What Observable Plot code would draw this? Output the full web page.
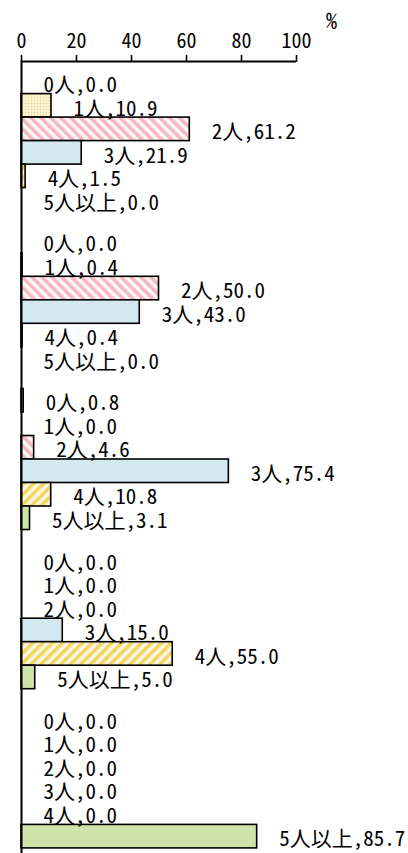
<!DOCTYPE html>
<html>
<head>
<meta charset="utf-8">
<script src="https://cdn.jsdelivr.net/npm/d3@7"></script>
<script src="https://cdn.jsdelivr.net/npm/@observablehq/plot@0.6"></script>
<style>
  html, body { margin: 0; padding: 0; background: #fff; overflow: hidden; }
  #patterns { position: absolute; width: 0; height: 0; overflow: hidden; }
</style>
</head>
<body>
<svg id="patterns" width="0" height="0" aria-hidden="true">
  <defs>
    <pattern id="pDots" patternUnits="userSpaceOnUse" width="3" height="3">
      <rect width="3" height="3" fill="#fdf4cf"></rect>
      <circle cx="1.5" cy="1.5" r="0.75" fill="#e6d49a"></circle>
    </pattern>
    <pattern id="pPink" patternUnits="userSpaceOnUse" width="7" height="7" patternTransform="rotate(-45)">
      <rect width="7" height="7" fill="#fdf8f6"></rect>
      <rect width="3.5" height="7" fill="#f6b6c3"></rect>
    </pattern>
    <pattern id="pYellow" patternUnits="userSpaceOnUse" width="7" height="7" patternTransform="rotate(45)">
      <rect width="7" height="7" fill="#fdf6e6"></rect>
      <rect width="3.5" height="7" fill="#f3d55c"></rect>
    </pattern>
  </defs>
</svg>
<div id="chart"></div>
<script>
// ---- data ----
const groups = ["G1", "G2", "G3", "G4", "G5"];
const categories = ["0人", "1人", "2人", "3人", "4人", "5人以上"];
const group1 = [0.0, 10.9, 61.2, 21.9, 1.5, 0.0];
const group2 = [0.0, 0.4, 50.0, 43.0, 0.4, 0.0];
const group3 = [0.8, 0.0, 4.6, 75.4, 10.8, 3.1];
const group4 = [0.0, 0.0, 0.0, 15.0, 55.0, 5.0];
const group5 = [0.0, 0.0, 0.0, 0.0, 0.0, 85.7];
const xTicks = [0, 20, 40, 60, 80, 100];
const unitLabel = "%";

// row slots: each category takes one unit, groups separated by a small gap
const groupGap = 0.774;
const groupPitch = categories.length + groupGap;
const groupValues = [group1, group2, group3, group4, group5];
const rows = groups.flatMap((g, gi) =>
  categories.map((c, ci) => {
    const y1 = gi * groupPitch + groupGap / 2 + ci;
    return {group: g, cat: c, value: groupValues[gi][ci], y1, y2: y1 + 1, ym: y1 + 0.5};
  })
);

const fills = ["#ffffff", "url(#pDots)", "url(#pPink)", "#d3e9ef", "url(#pYellow)", "#cde3a8"];
const font = "'Noto Sans Mono CJK JP','Noto Sans CJK JP',sans-serif";

const chart = Plot.plot({
  width: 408,
  height: 857,
  marginTop: 61,
  marginBottom: 0,
  marginLeft: 21,
  marginRight: 112,
  style: {fontFamily: font, fontSize: "20px", color: "#000", background: "#fff"},
  x: {domain: [0, 100], axis: null},
  y: {domain: [0, groups.length * groupPitch], reverse: true, axis: null},
  color: {domain: categories, range: fills},
  marks: [
    Plot.rect(rows.filter(d => d.value > 0), {
      x1: () => 0, x2: "value", y1: "y1", y2: "y2",
      fill: "cat", stroke: "#000", strokeWidth: 1.6
    }),
    Plot.text(rows, {
      x: "value", y: "ym",
      text: d => `${d.cat},${d.value.toFixed(1)}`,
      textAnchor: "start", dx: 22, dy: 3,
      fontSize: 21, fill: "#000"
    }),
    Plot.ruleX([0], {stroke: "#000", strokeWidth: 2}),
    Plot.ruleY([0], {stroke: "#000", strokeWidth: 2}),
    Plot.axisX({
      anchor: "top", ticks: xTicks, tickSize: 7, tickPadding: 7,
      tickFormat: d => String(d), fontSize: 20, label: null,
      stroke: "#000", strokeWidth: 1.6, fill: "#000"
    }),
    Plot.text([unitLabel], {
      x: () => 100, frameAnchor: "top", dx: 35, dy: -40,
      textAnchor: "middle", lineAnchor: "middle",
      fontSize: 22, fill: "#000"
    })
  ]
});

document.getElementById("chart").append(chart);
</script>
</body>
</html>
